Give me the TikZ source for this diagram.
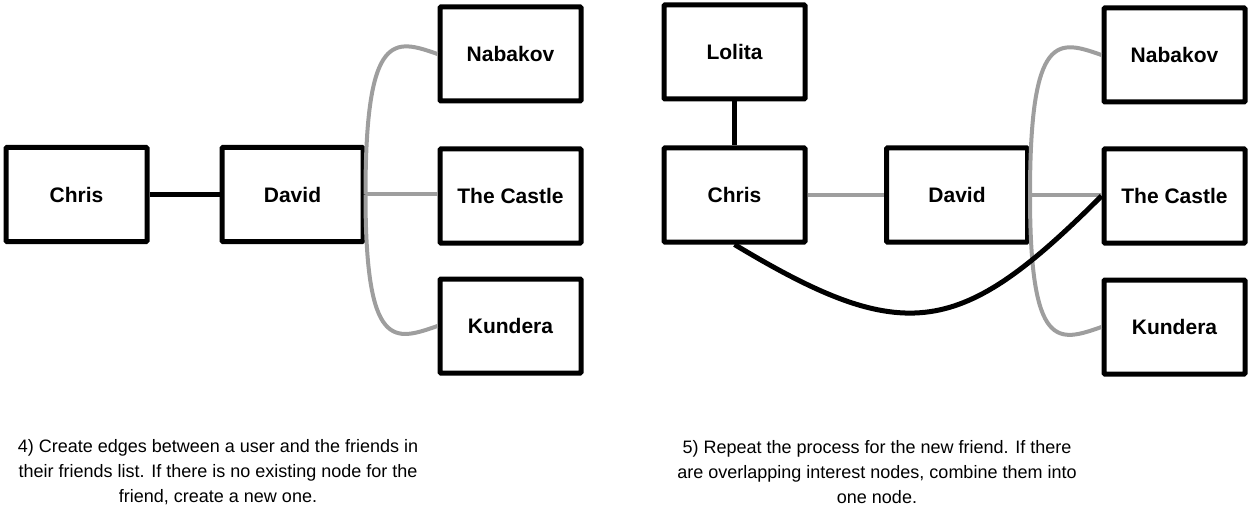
\documentclass[tikz,border=0pt]{standalone}
\usepackage{fontspec}
\setmainfont{Liberation Sans}
\definecolor{linkgray}{RGB}{158,158,158}
\begin{document}
\begin{tikzpicture}[x=1pt,y=-1pt,
  box/.style={draw=black, line width=5pt, fill=white, minimum width=141pt,
    minimum height=94pt, inner sep=0pt, rounded corners=1pt,
    font=\fontsize{21}{25}\selectfont\bfseries},
  graylink/.style={draw=linkgray, line width=4pt},
  blacklink/.style={draw=black, line width=5pt},
  caption/.style={align=center, inner sep=0pt,
    font=\fontsize{18}{25}\selectfont}]
\useasboundingbox (0,0) rectangle (1251,508);

% step 4: one user, one friend, three interests
\node[box] (chrisL) at (76.5,194.5) {Chris};
\node[box] (davidL) at (292.5,194.5) {David};
\node[box] (nabL)   at (510.5,54)   {Nabakov};
\node[box] (castL)  at (510.5,196)  {The Castle};
\node[box] (kunL)   at (510.5,326)  {Kundera};

\draw[blacklink] (chrisL) -- (davidL);
\draw[graylink] (davidL.east) .. controls +(0,-165) and +(-43,-15) .. (nabL.west);
\draw[graylink] (davidL.east) -- (davidL.east -| castL.west);
\draw[graylink] (davidL.east) .. controls +(0,157) and +(-43,15) .. (kunL.west);

\node[caption] (capL) at (218,472)
  {4) Create edges between a user and the friends in\\
   their friends list. If there is no existing node for the\\
   friend, create a new one.};

% step 5: the new friend joins, shared interests merged
\node[box] (lolita) at (734.5,52)  {Lolita};
\node[box] (chrisR) at (734.5,195) {Chris};
\node[box] (davidR) at (957,195)   {David};
\node[box] (nabR)   at (1174.5,55) {Nabakov};
\node[box] (castR)  at (1174.5,196) {The Castle};
\node[box] (kunR)   at (1174.5,327) {Kundera};

\draw[blacklink] (lolita) -- (chrisR);
\draw[graylink] (chrisR) -- (davidR);
\draw[graylink] (davidR.east) .. controls +(0,-165) and +(-43,-15) .. (nabR.west);
\draw[graylink] (davidR.east) -- (davidR.east -| castR.west);
\draw[graylink] (davidR.east) .. controls +(0,157) and +(-43,15) .. (kunR.west);
\draw[blacklink] (chrisR.south) .. controls +(171,103) and +(-141,141) .. (castR.west);

\node[caption] (capR) at (877,472)
  {5) Repeat the process for the new friend. If there\\
   are overlapping interest nodes, combine them into\\
   one node.};
\end{tikzpicture}
\end{document}
